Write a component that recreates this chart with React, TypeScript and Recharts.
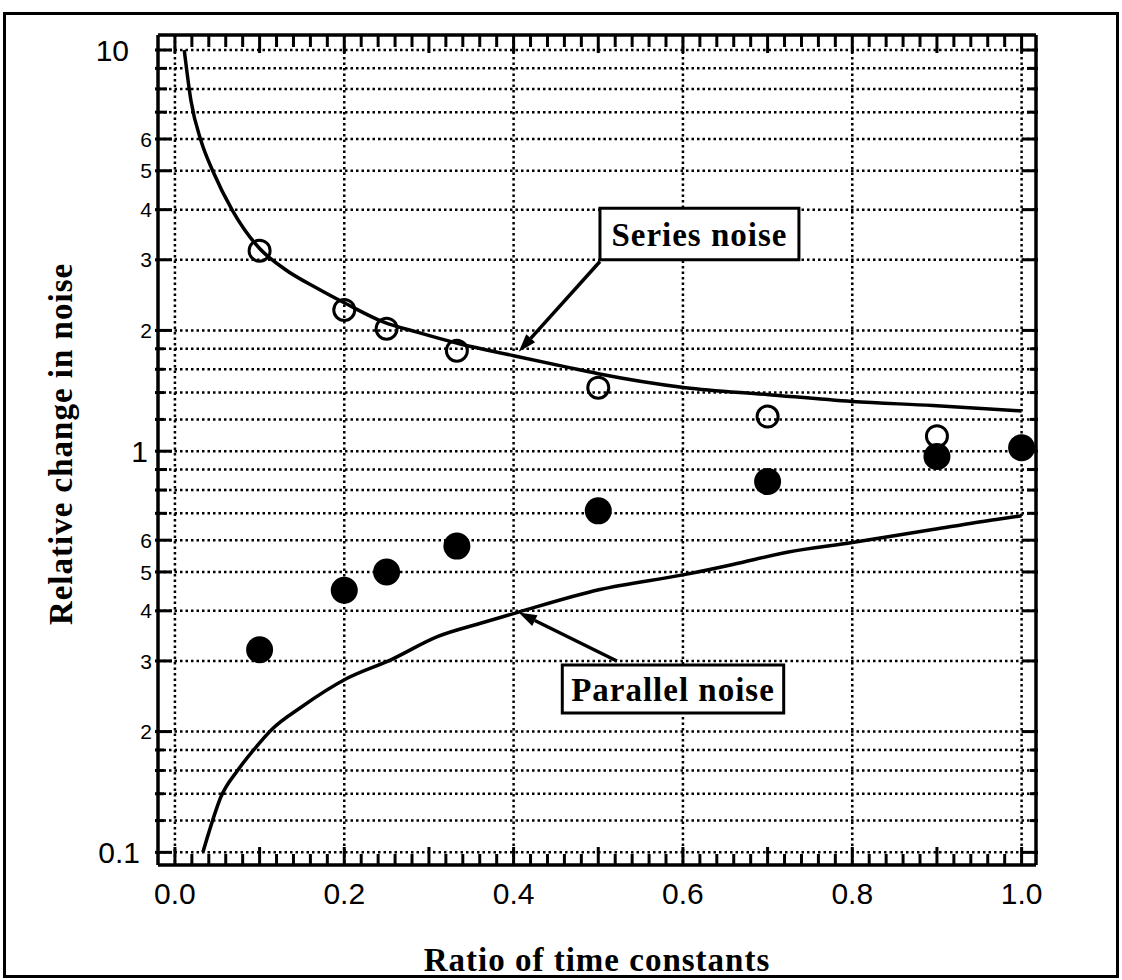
import React from 'react';
import {
  ComposedChart,
  Line,
  Scatter,
  XAxis,
  YAxis,
  CartesianGrid,
  ReferenceArea,
  ReferenceLine,
} from 'recharts';

// theory curves
const seriesCurve = [
  { x: 0.011, y: 10 },
  { x: 0.019, y: 7.46 },
  { x: 0.031, y: 5.92 },
  { x: 0.045, y: 4.98 },
  { x: 0.068, y: 3.98 },
  { x: 0.1, y: 3.2 },
  { x: 0.129, y: 2.85 },
  { x: 0.169, y: 2.54 },
  { x: 0.204, y: 2.32 },
  { x: 0.246, y: 2.1 },
  { x: 0.286, y: 1.98 },
  { x: 0.337, y: 1.85 },
  { x: 0.4, y: 1.73 },
  { x: 0.463, y: 1.62 },
  { x: 0.5, y: 1.56 },
  { x: 0.603, y: 1.44 },
  { x: 0.699, y: 1.385 },
  { x: 0.8, y: 1.33 },
  { x: 0.895, y: 1.3 },
  { x: 1.0, y: 1.26 },
];

const parallelCurve = [
  { x: 0.033, y: 0.1 },
  { x: 0.04, y: 0.112 },
  { x: 0.054, y: 0.137 },
  { x: 0.074, y: 0.16 },
  { x: 0.093, y: 0.18 },
  { x: 0.115, y: 0.203 },
  { x: 0.149, y: 0.23 },
  { x: 0.204, y: 0.272 },
  { x: 0.255, y: 0.302 },
  { x: 0.31, y: 0.345 },
  { x: 0.364, y: 0.374 },
  { x: 0.404, y: 0.396 },
  { x: 0.502, y: 0.452 },
  { x: 0.603, y: 0.493 },
  { x: 0.659, y: 0.522 },
  { x: 0.723, y: 0.56 },
  { x: 0.8, y: 0.592 },
  { x: 0.895, y: 0.638 },
  { x: 0.97, y: 0.676 },
  { x: 1.0, y: 0.69 },
];

// measured points
const seriesMeasured = [
  { x: 0.1, y: 3.16 },
  { x: 0.2, y: 2.25 },
  { x: 0.25, y: 2.02 },
  { x: 0.333, y: 1.78 },
  { x: 0.5, y: 1.44 },
  { x: 0.7, y: 1.22 },
  { x: 0.9, y: 1.09 },
];

const parallelMeasured = [
  { x: 0.1, y: 0.32 },
  { x: 0.2, y: 0.45 },
  { x: 0.25, y: 0.5 },
  { x: 0.333, y: 0.58 },
  { x: 0.5, y: 0.71 },
  { x: 0.7, y: 0.84 },
  { x: 0.9, y: 0.97 },
  { x: 1.0, y: 1.02 },
];

const xLabelTicks = [0, 0.2, 0.4, 0.6, 0.8, 1.0];
const xMarkTicks = Array.from({ length: 51 }, (_, i) => Number((i * 0.02).toFixed(2)));
const yGridTicks = [
  0.1, 0.12, 0.14, 0.16, 0.18, 0.2, 0.3, 0.4, 0.5, 0.6, 0.7, 0.8, 0.9,
  1, 1.2, 1.4, 1.6, 1.8, 2, 3, 4, 5, 6, 7, 8, 9, 10,
];
const yBigLabels = ['0.1', '1', '10'];
const ySmallLabels = [0.2, 0.3, 0.4, 0.5, 0.6, 2, 3, 4, 5, 6];

const X_DOMAIN: [number, number] = [-0.02, 1.017];
const Y_DOMAIN: [number, number] = [0.093, 10.9];

const SANS = '"Liberation Sans", Arial, sans-serif';
const SERIF = '"Liberation Serif", "Times New Roman", serif';

const near = (a: number, b: number) => Math.abs(a - b) < 1e-6;
const inList = (list: number[], v: number) => list.some((d) => near(d, v));
const isTenth = (v: number) => near(v * 10, Math.round(v * 10));

const bigDx: Record<string, number> = { '10': -29, '1': -10, '0.1': -18 };

function yTickInfo(v: number) {
  const big = yBigLabels.find((t) => near(Number(t), v));
  const small = inList(ySmallLabels, v);
  const mant = v / Math.pow(10, Math.floor(Math.log10(v) + 1e-9));
  const digit = Math.round(mant);
  let len = 9;
  if (big || small) len = 14;
  else if (!near(mant, digit)) len = 6; // 1.2 .. 1.8 style ticks are short
  return { big, small, digit, len };
}

const BottomTick = ({ x, y, payload }: any) => {
  const v = payload.value;
  const len = isTenth(v) ? 18 : 11;
  return (
    <g>
      <line x1={x} y1={y} x2={x} y2={y - len} stroke="#000" strokeWidth={3} />
      {inList(xLabelTicks, v) && (
        <text x={x} y={y + 39} textAnchor="middle" fontSize={30} fontFamily={SANS} fill="#000">
          {v.toFixed(1)}
        </text>
      )}
    </g>
  );
};

const TopTick = ({ x, y, payload }: any) => {
  const len = isTenth(payload.value) ? 18 : 12;
  return <line x1={x} y1={y} x2={x} y2={y + len} stroke="#000" strokeWidth={3} />;
};

const LeftTick = ({ x, y, payload }: any) => {
  const { big, small, digit, len } = yTickInfo(payload.value);
  return (
    <g>
      <line x1={x - 3} y1={y} x2={x + len} y2={y} stroke="#000" strokeWidth={3} />
      {big && (
        <text x={x + bigDx[big]} y={y} dy="0.36em" textAnchor="end" fontSize={30} fontFamily={SANS} fill="#000">
          {big}
        </text>
      )}
      {small && (
        <text x={x - 6} y={y} dy="0.36em" textAnchor="end" fontSize={21} fontFamily={SANS} fill="#000">
          {digit}
        </text>
      )}
    </g>
  );
};

const RightTick = ({ x, y, payload }: any) => {
  const { len } = yTickInfo(payload.value);
  return <line x1={x + 2} y1={y} x2={x - len} y2={y} stroke="#000" strokeWidth={3} />;
};

const XTitle = ({ viewBox }: any) => (
  <text
    x={viewBox.x + viewBox.width / 2}
    y={viewBox.y + 106}
    textAnchor="middle"
    fontSize={33}
    fontWeight="bold"
    letterSpacing={1}
    fontFamily={SERIF}
    fill="#000"
  >
    Ratio of time constants
  </text>
);

const YTitle = ({ viewBox }: any) => {
  const cx = viewBox.x - 26;
  const cy = viewBox.y + viewBox.height / 2 - 6;
  return (
    <text
      x={cx}
      y={cy}
      transform={`rotate(-90 ${cx} ${cy})`}
      textAnchor="middle"
      fontSize={33}
      fontWeight="bold"
      letterSpacing={1}
      fontFamily={SERIF}
      fill="#000"
    >
      Relative change in noise
    </text>
  );
};

const Arrow = (p: any) => {
  const { x1, y1, x2, y2 } = p;
  const ang = Math.atan2(y2 - y1, x2 - x1);
  const L = 18;
  const W = 6;
  const bx = x1 + L * Math.cos(ang);
  const by = y1 + L * Math.sin(ang);
  const px = -Math.sin(ang) * W;
  const py = Math.cos(ang) * W;
  return (
    <g>
      <line x1={bx} y1={by} x2={x2} y2={y2} stroke="#000" strokeWidth={3.5} />
      <polygon points={`${x1},${y1} ${bx + px},${by + py} ${bx - px},${by - py}`} fill="#000" />
    </g>
  );
};

const OpenDot = ({ cx, cy }: any) => (
  <circle cx={cx} cy={cy} r={10.5} fill="none" stroke="#000" strokeWidth={3} />
);
const FilledDot = ({ cx, cy }: any) => <circle cx={cx} cy={cy} r={13.5} fill="#000" />;

const boxLabel = {
  position: 'center' as const,
  fontSize: 33,
  fontWeight: 'bold',
  fontFamily: SERIF,
  letterSpacing: 1,
  fill: '#000',
};

export default function App() {
  return (
    <div style={{ position: 'absolute', left: 0, top: 0, width: 1122, height: 980, background: '#fff' }}>
      <div
        style={{
          position: 'absolute',
          left: 3,
          top: 12,
          width: 1116,
          height: 966,
          border: '3px solid #000',
          boxSizing: 'border-box',
        }}
      />
      <ComposedChart width={1122} height={980} margin={{ top: 30, right: 76, bottom: 65, left: 98 }}>
        <CartesianGrid
          xAxisId="bottom"
          yAxisId="left"
          horizontalValues={yGridTicks}
          verticalValues={xLabelTicks}
          stroke="#000"
          strokeWidth={2.5}
          strokeDasharray="2.5 3"
        />
        <XAxis
          xAxisId="bottom"
          type="number"
          dataKey="x"
          domain={X_DOMAIN}
          allowDataOverflow
          ticks={xMarkTicks}
          interval={0}
          height={50}
          tickSize={0}
          tickMargin={0}
          tickLine={false}
          tick={BottomTick}
          axisLine={{ stroke: '#000', strokeWidth: 3.5 }}
          label={<XTitle />}
        />
        <XAxis
          xAxisId="top"
          orientation="top"
          type="number"
          dataKey="x"
          domain={X_DOMAIN}
          allowDataOverflow
          ticks={xMarkTicks}
          interval={0}
          height={5}
          tickSize={0}
          tickMargin={0}
          tickLine={false}
          tick={TopTick}
          axisLine={{ stroke: '#000', strokeWidth: 3.5 }}
        />
        <YAxis
          yAxisId="left"
          type="number"
          dataKey="y"
          scale="log"
          domain={Y_DOMAIN}
          allowDataOverflow
          ticks={yGridTicks}
          interval={0}
          width={60}
          tickSize={0}
          tickMargin={0}
          tickLine={false}
          tick={LeftTick}
          axisLine={{ stroke: '#000', strokeWidth: 3.5 }}
          label={<YTitle />}
        />
        <YAxis
          yAxisId="right"
          orientation="right"
          type="number"
          dataKey="y"
          scale="log"
          domain={Y_DOMAIN}
          allowDataOverflow
          ticks={yGridTicks}
          interval={0}
          width={10}
          tickSize={0}
          tickMargin={0}
          tickLine={false}
          tick={RightTick}
          axisLine={{ stroke: '#000', strokeWidth: 3.5 }}
        />

        <ReferenceArea
          xAxisId="bottom"
          yAxisId="left"
          x1={0.502}
          x2={0.737}
          y1={3.0}
          y2={4.03}
          fill="#fff"
          fillOpacity={1}
          stroke="#000"
          strokeWidth={3}
          label={{ value: 'Series noise', ...boxLabel }}
        />
        <ReferenceArea
          xAxisId="bottom"
          yAxisId="left"
          x1={0.4575}
          x2={0.719}
          y1={0.2226}
          y2={0.293}
          fill="#fff"
          fillOpacity={1}
          stroke="#000"
          strokeWidth={3}
          label={{ value: 'Parallel noise', ...boxLabel }}
        />
        <ReferenceLine
          xAxisId="bottom"
          yAxisId="left"
          segment={[{ x: 0.406, y: 1.77 }, { x: 0.502, y: 2.97 }]}
          shape={Arrow}
        />
        <ReferenceLine
          xAxisId="bottom"
          yAxisId="left"
          segment={[{ x: 0.406, y: 0.396 }, { x: 0.522, y: 0.3 }]}
          shape={Arrow}
        />

        <Line
          xAxisId="bottom"
          yAxisId="left"
          data={seriesCurve}
          dataKey="y"
          type="monotone"
          stroke="#000"
          strokeWidth={3.5}
          dot={false}
          activeDot={false}
          isAnimationActive={false}
        />
        <Line
          xAxisId="bottom"
          yAxisId="left"
          data={parallelCurve}
          dataKey="y"
          type="monotone"
          stroke="#000"
          strokeWidth={3.5}
          dot={false}
          activeDot={false}
          isAnimationActive={false}
        />
        <Scatter
          xAxisId="bottom"
          yAxisId="left"
          data={seriesMeasured}
          dataKey="y"
          shape={OpenDot}
          isAnimationActive={false}
        />
        <Scatter
          xAxisId="bottom"
          yAxisId="left"
          data={parallelMeasured}
          dataKey="y"
          shape={FilledDot}
          isAnimationActive={false}
        />
      </ComposedChart>
    </div>
  );
}
